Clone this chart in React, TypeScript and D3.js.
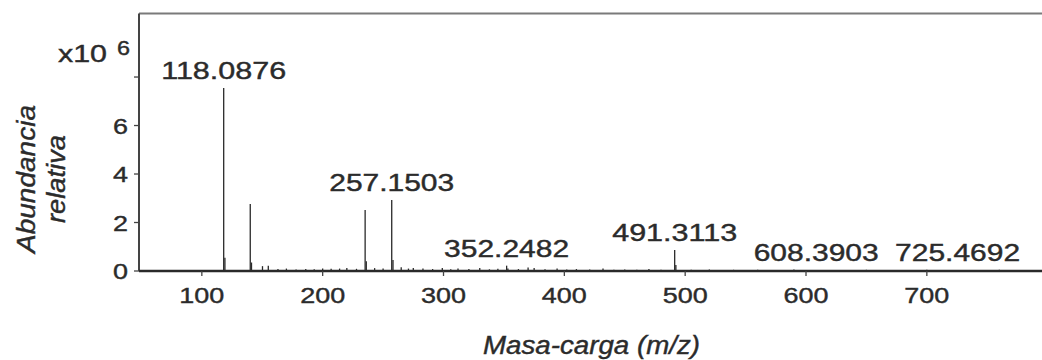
import React from "react";
import * as d3 from "d3";

// m/z of labelled peaks and their labels
const labelledPeaks: [number, number][] = [
  [118.0876, 7.55],
  [257.1503, 2.93],
  [352.2482, 0.22],
  [491.3113, 0.87],
  [608.3903, 0.03],
  [725.4692, 0.03],
];

// other peaks (m/z, abundance x10^6)
const otherPeaks: [number, number][] = [
  [119.1, 0.55], [140.07, 2.76], [141.1, 0.35], [150.2, 0.2], [155, 0.22], [163, 0.08],
  [170, 0.1], [178, 0.06], [186, 0.08], [193, 0.07], [200, 0.1], [207, 0.09], [214, 0.1], [220, 0.12],
  [228, 0.09], [235.14, 2.52], [236.1, 0.4], [243, 0.12], [250, 0.1], [258.2, 0.45], [265, 0.15], [271, 0.1],
  [275, 0.12], [283, 0.1], [291, 0.08], [299, 0.12], [306, 0.07], [312, 0.1], [321, 0.08], [330, 0.12],
  [338, 0.07], [345, 0.09], [353.3, 0.1], [362, 0.08], [370, 0.14], [375, 0.12], [384, 0.07], [394, 0.1],
  [402, 0.06], [410, 0.08], [421, 0.06], [432, 0.1], [441, 0.05], [450, 0.06], [460, 0.05], [470, 0.08],
  [480, 0.05], [492.3, 0.25], [505, 0.05], [520, 0.06], [540, 0.05], [560, 0.05], [575, 0.04], [590, 0.06],
  [620, 0.04], [650, 0.05], [680, 0.04], [700, 0.05], [740, 0.04], [760, 0.05], [780, 0.04],
];

const xTicks = [100, 200, 300, 400, 500, 600, 700];
const yTicks = [0, 2, 4, 6, 8];
const yTickLabels = ["0", "2", "4", "6", ""];

const W = 1042;
const H = 360;

export default function App() {
  const x = d3.scaleLinear().domain([48, 795.3]).range([139, 1042]);
  const y = d3.scaleLinear().domain([0, 10.62]).range([271, 13.5]);
  const font = "'Liberation Sans', Arial, Helvetica, sans-serif";
  const ink = "#2a2a2a";
  const txt = { fill: "#2b2b2b", stroke: "#2b2b2b", strokeWidth: 0.4 };
  const allPeaks = [...otherPeaks, ...labelledPeaks];

  return (
    <svg
      width={W}
      height={H}
      style={{ position: "absolute", left: 0, top: 0, background: "#fff" }}
      fontFamily={font}
    >
      <rect x={0} y={0} width={W} height={H} fill="#fff" />
      {/* frame */}
      <line x1={x.range()[0]} x2={x.range()[1]} y1={y.range()[1]} y2={y.range()[1]} stroke="#7a7a7a" strokeWidth={2} />
      <line x1={x.range()[0]} x2={x.range()[0]} y1={y.range()[1]} y2={y(0)} stroke="#444" strokeWidth={2} />

      {/* peaks */}
      {allPeaks.map(([mz, v], i) => (
        <line key={i} x1={x(mz)} x2={x(mz)} y1={y(0)} y2={y(v)} stroke={ink} strokeWidth={1.3} />
      ))}

      {/* baseline */}
      <line x1={x.range()[0]} x2={x.range()[1]} y1={y(0)} y2={y(0)} stroke={ink} strokeWidth={2.4} />

      {/* x ticks */}
      {xTicks.map((t) => (
        <g key={t}>
          <line x1={x(t)} x2={x(t)} y1={y(0)} y2={y(0) + 5} stroke="#444" strokeWidth={1.3} />
          <text
            x={x(t) - 22.5}
            y={303}
            fontSize={22}
            {...txt}
            textLength={45}
            lengthAdjust="spacingAndGlyphs"
          >
            {String(t)}
          </text>
        </g>
      ))}

      {/* y ticks */}
      {yTicks.map((t, i) => (
        <g key={t}>
          <line x1={x.range()[0] - 5} x2={x.range()[0]} y1={y(t)} y2={y(t)} stroke="#444" strokeWidth={1.3} />
          {yTickLabels[i] && (
            <text
              x={113}
              y={y(t) + 8}
              fontSize={22}
              {...txt}
              textLength={15}
              lengthAdjust="spacingAndGlyphs"
            >
              {yTickLabels[i]}
            </text>
          )}
        </g>
      ))}

      {/* multiplier */}
      <text x={58} y={62} fontSize={23} {...txt} textLength={49} lengthAdjust="spacingAndGlyphs">
        x10
      </text>
      <text x={117} y={55} fontSize={20} {...txt} textLength={13} lengthAdjust="spacingAndGlyphs">
        6
      </text>

      {/* peak labels */}
      {labelledPeaks.map(([mz, v]) => (
        <text
          key={mz}
          x={x(mz) - 62.5}
          y={y(v) - 9}
          fontSize={23}
          {...txt}
          textLength={125}
          lengthAdjust="spacingAndGlyphs"
        >
          {mz.toFixed(4)}
        </text>
      ))}

      {/* axis titles */}
      <text
        x={483}
        y={354}
        fontSize={25}
        fontStyle="italic"
        {...txt}
        textLength={217}
        lengthAdjust="spacingAndGlyphs"
      >
        Masa-carga (m/z)
      </text>
      <text
        transform="translate(35,179) rotate(-90)"
        x={-74}
        y={0}
        fontSize={26}
        fontStyle="italic"
        {...txt}
        textLength={148}
        lengthAdjust="spacingAndGlyphs"
      >
        Abundancia
      </text>
      <text
        transform="translate(65,179) rotate(-90)"
        x={-44}
        y={0}
        fontSize={25}
        fontStyle="italic"
        {...txt}
        textLength={88}
        lengthAdjust="spacingAndGlyphs"
      >
        relativa
      </text>
    </svg>
  );
}
